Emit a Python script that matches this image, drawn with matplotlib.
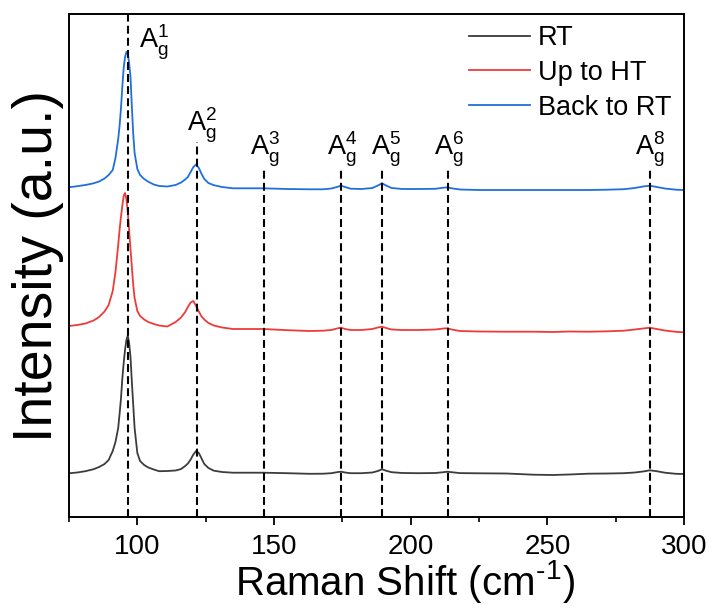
import matplotlib
matplotlib.use("Agg")
import matplotlib.pyplot as plt

plt.rcParams['font.family'] = ['Liberation Sans', 'DejaVu Sans']
plt.rcParams['mathtext.fontset'] = 'custom'
plt.rcParams['mathtext.rm'] = 'Liberation Sans'
plt.rcParams['mathtext.it'] = 'Liberation Sans:italic'
plt.rcParams['mathtext.bf'] = 'Liberation Sans:bold'

# ---- data ----
shift_cm = [75, 78, 81, 84, 86, 88, 89.5, 91, 92, 93, 93.5, 94, 94.5, 95, 95.5, 96, 96.5, 97, 97.5,
            98, 98.5, 99, 100, 101, 102.5, 104, 106, 108, 111, 114, 116, 117.5, 118.5, 119.5, 120.5,
            121.5, 122.5, 123.5, 124.5, 126, 128, 131, 135, 140, 146, 155, 163, 168, 171, 173, 174.5,
            176, 178, 182, 186, 188, 189.5, 191, 193, 197, 203, 209, 212, 213.5, 215, 218, 225, 235,
            245, 252, 258, 265, 272, 278, 282, 285, 287.5, 290, 293, 297, 300]

rt_intensity = [43.7, 44.5, 45.8, 47.8, 50, 53, 57, 66, 75, 89, 103, 118, 138, 154, 167, 177, 181.5,
                174, 160, 135, 112, 89, 64, 56, 52, 49.5, 47.5, 45.8, 46, 46.5, 48, 51, 53.5, 57.5,
                62.5, 66, 64, 58.5, 53, 49, 46.3, 45, 44.3, 44.3, 44.3, 43.8, 43.2, 43.3, 43.8, 44.8,
                45.3, 44.5, 43.8, 43.8, 44.5, 46, 47.7, 46.3, 44.8, 44, 43.8, 44, 44.8, 45.3, 44.8,
                43.9, 43.7, 43.5, 42.3, 42, 42.5, 43.3, 43.5, 43.8, 44.5, 45.5, 46.7, 45.8, 44.3,
                43.2, 43]

ht_intensity = [191, 192, 193.5, 196.5, 200, 205.5, 212, 226, 245, 272, 287, 300, 311, 321, 324, 318,
                305, 287, 268, 250, 232, 219, 206, 201, 197.5, 195, 193, 191.5, 190.5, 195, 199.5, 205,
                210, 214.5, 216, 211, 205.5, 200.5, 197.5, 194, 191.5, 189.5, 188, 188, 188, 186.8,
                186, 186.3, 187, 188.5, 189.3, 188, 187, 187, 188, 189.5, 190.3, 189, 187.5, 187, 187,
                187.5, 188.5, 188.7, 187.5, 186, 185.5, 185.3, 185.3, 185, 185.5, 185.3, 185.7, 186.3,
                187.5, 188.5, 189.3, 188, 186.5, 185.2, 184.7]

back_intensity = [329.7, 330.8, 332, 333.7, 335.5, 338.5, 342, 347, 359, 378, 391, 408, 430, 449, 460,
                  465, 463, 454, 440, 410, 383, 364, 348, 342, 338, 335.3, 332.5, 331, 330.5, 332,
                  334.5, 337.5, 340, 345, 350, 352.5, 349, 343, 338, 334, 331.8, 330, 328.7, 328.7,
                  328.7, 328, 327.7, 327.7, 328.5, 330, 331.3, 330, 328.3, 328, 329, 331.5, 333.7,
                  331.5, 329, 328, 328, 328.2, 329.3, 329.7, 328.7, 327.5, 327, 327, 327, 327, 327,
                  327, 327.3, 327.8, 329, 330.5, 331.3, 330, 328.5, 327.3, 327]

series_labels = ["RT", "Up to HT", "Back to RT"]
series_colors = ["#3c3c3c", "#f03a3a", "#1f6fdc"]

mode_names = ["1", "2", "3", "4", "5", "6", "8"]
mode_positions = [96.5, 122.0, 146.5, 174.5, 189.5, 213.5, 287.5]
mode_line_tops = [503, 375, 349, 347, 347, 347, 347]
mode_label_x = [100.5, 118.3, 141.3, 169.5, 185.6, 208.7, 281.9]
mode_label_y = [455, 372, 348, 348, 348, 348, 348]

x_ticks = [100, 150, 200, 250, 300]
x_minor = [75, 125, 175, 225, 275]

# ---- figure ----
fig = plt.figure(figsize=(7.15, 6.15), dpi=100)
ax = fig.add_axes([69 / 715, 1 - 517 / 615, (684 - 69) / 715, (517 - 14) / 615])

for yv, lab, col in zip([rt_intensity, ht_intensity, back_intensity], series_labels, series_colors):
    ax.plot(shift_cm, yv, color=col, lw=1.3, label=lab)

for pos, top in zip(mode_positions, mode_line_tops):
    ax.plot([pos, pos], [0, top], color='black', lw=1.5, linestyle=(0, (3.8, 2.0)))

for name, lx, ly in zip(mode_names, mode_label_x, mode_label_y):
    ax.text(lx, ly, r'$\mathregular{A_g^{%s}}$' % name, fontsize=19.5, ha='left', va='bottom')

ax.set_xlim(75, 300)
ax.set_ylim(0, 503)
ax.set_xticks(x_ticks)
ax.set_xticks(x_minor, minor=True)
ax.set_yticks([])
ax.tick_params(axis='x', which='major', direction='out', length=6, width=1.3, labelsize=20, pad=6)
ax.tick_params(axis='x', which='minor', direction='out', length=3.5, width=1.2)
for s in ax.spines.values():
    s.set_linewidth(1.4)

ax.set_xlabel('Raman Shift (cm$\\mathregular{^{\u2010}}$$\\mathregular{^{1}}$)', fontsize=29)
ax.xaxis.set_label_coords((405 - 69) / 615, -0.082)
ax.set_ylabel('Intensity (a.u.)', fontsize=40)
ax.yaxis.set_label_coords(-0.008, 0.5)

ax.legend(loc='upper left', bbox_to_anchor=(469 / 715, 1 - 25 / 615), bbox_transform=fig.transFigure,
          frameon=False, fontsize=19.5, handlelength=2.25, handletextpad=0.3, labelspacing=0.33,
          borderpad=0, borderaxespad=0)

fig.savefig('out.png', dpi=100)
